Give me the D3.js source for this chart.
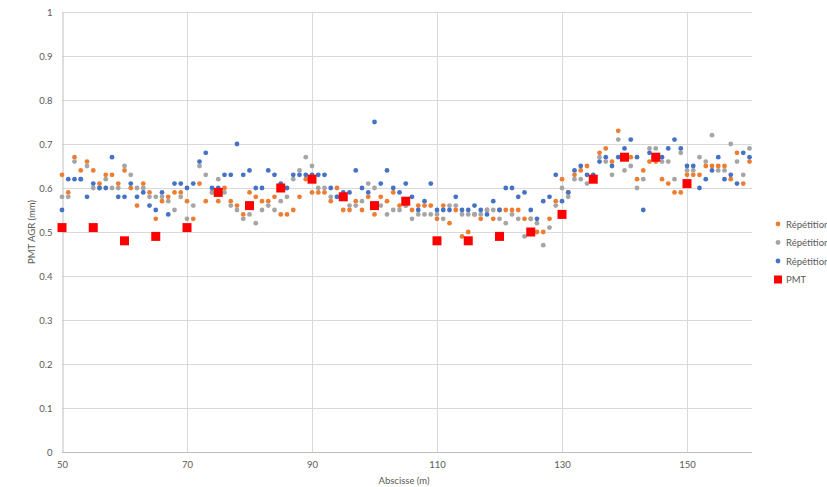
<!DOCTYPE html>
<html>
<head>
<meta charset="utf-8">
<script src="https://cdn.jsdelivr.net/npm/d3@7"></script>
<style>
  body { margin: 0; background: #fff; }
  text { font-family: Lato, "Open Sans", sans-serif; fill: #595959; }
</style>
</head>
<body>
<div id="chart"></div>
<script>
'use strict';

// abscissae (m) of the repetitions, one per metre
const abscissae = d3.range(50, 161);

const rep1 = [
  .63, .59, .67, .64, .66, .64, .61, .63, .63, .61,
  .64, .60, .56, .61, .59, .53, .57, .58, .59, .59,
  .57, .53, .61, .57, .59, .57, .60, .57, .56, .54,
  .59, .58, .57, .57, .58, .54, .54, .55, .58, .62,
  .59, .59, .59, .57, .60, .55, .55, .57, .55, .58,
  .54, .58, .57, .59, .56, .56, .55, .56, .56, .56,
  .53, .56, .52, .55, .49, .50, .54, .53, .55, .53,
  .55, .55, .55, .55, .53, .53, .50, .50, .53, .57,
  .62, .59, .63, .64, .65, .62, .68, .69, .66, .73,
  .67, .67, .62, .64, .66, .66, .62, .61, .59, .59,
  .63, .63, .63, .65, .65, .65, .65, .62, .68, .61, .66
];

const rep2 = [
  .58, .58, .66, .62, .65, .60, .60, .62, .60, .60,
  .65, .63, .60, .60, .58, .58, .58, .57, .55, .58,
  .53, .56, .65, .63, .59, .62, .59, .56, .55, .53,
  .54, .52, .55, .56, .55, .57, .58, .62, .64, .67,
  .65, .60, .60, .58, .58, .58, .56, .56, .57, .61,
  .60, .56, .54, .55, .55, .56, .53, .54, .54, .54,
  .54, .53, .56, .56, .54, .54, .54, .54, .55, .55,
  .53, .52, .54, .53, .49, .53, .52, .47, .51, .56,
  .60, .58, .62, .62, .61, .62, .67, .66, .63, .71,
  .64, .65, .60, .62, .69, .69, .66, .66, .62, .68,
  .64, .64, .67, .66, .72, .64, .64, .70, .66, .63, .69
];

const rep3 = [
  .55, .62, .62, .62, .58, .61, .60, .60, .67, .58,
  .58, .61, .58, .59, .56, .55, .59, .54, .61, .61,
  .60, .61, .66, .68, .60, .60, .63, .63, .70, .63,
  .64, .60, .60, .64, .63, .61, .60, .63, .63, .63,
  .63, .63, .63, .60, .58, .59, .59, .64, .60, .59,
  .75, .61, .64, .60, .59, .61, .58, .55, .57, .61,
  .55, .55, .55, .58, .55, .55, .56, .55, .54, .57,
  .55, .60, .60, .58, .59, .55, .53, .57, .58, .63,
  .57, .59, .64, .65, .63, .63, .66, .67, .65, .67,
  .69, .71, .67, .55, .68, .67, .67, .69, .71, .69,
  .65, .65, .60, .62, .64, .67, .62, .63, .61, .68, .67
];

const pmtAbscissae = [50, 55, 60, 65, 70, 75, 80, 85, 90, 95, 100,
  105, 110, 115, 120, 125, 130, 135, 140, 145, 150];
const pmtValues = [.51, .51, .48, .49, .51, .59, .56, .60, .62, .58, .56,
  .57, .48, .48, .49, .50, .54, .62, .67, .67, .61];

const xTicks = [50, 70, 90, 110, 130, 150];
const yTicks = [0, 0.1, 0.2, 0.3, 0.4, 0.5, 0.6, 0.7, 0.8, 0.9, 1];

const seriesNames = ['Répétition 1', 'Répétition 2', 'Répétition 3', 'PMT'];
const seriesColors = ['#ED7D31', '#A5A5A5', '#4472C4', '#FF0000'];

const width = 827, height = 487;
const plot = {left: 62, right: 752, top: 12, bottom: 452};

const svg = d3.select('#chart').append('svg')
    .attr('width', width)
    .attr('height', height);

const x = d3.scaleLinear().domain([50, 160]).range([plot.left, plot.left + 110 * 6.25]);
const y = d3.scaleLinear().domain([0, 1]).range([plot.bottom, plot.top]);

// gridlines
svg.append('g')
  .selectAll('line')
  .data(yTicks.slice(1))
  .join('line')
    .attr('x1', plot.left).attr('x2', plot.right)
    .attr('y1', d => Math.round(y(d)) + 0.5).attr('y2', d => Math.round(y(d)) + 0.5)
    .attr('stroke', '#d9d9d9');

svg.append('g')
  .selectAll('line')
  .data(xTicks.slice(1))
  .join('line')
    .attr('x1', d => Math.round(x(d)) + 0.5).attr('x2', d => Math.round(x(d)) + 0.5)
    .attr('y1', plot.top).attr('y2', plot.bottom)
    .attr('stroke', '#d9d9d9');

// axes
const xAxis = svg.append('g')
    .attr('transform', `translate(0,${Math.round(y(0)) + 0.5})`)
    .call(d3.axisBottom(x).tickValues(xTicks).tickFormat(d3.format('d')).tickSize(0).tickPadding(9));
xAxis.select('.domain').attr('d', `M${plot.left},0H${plot.right}`).attr('stroke', '#bfbfbf');
xAxis.selectAll('text').attr('font-size', 9.5);

const yAxis = svg.append('g')
    .attr('transform', `translate(${Math.round(x(50)) + 0.5},0)`)
    .call(d3.axisLeft(y).tickValues(yTicks).tickFormat(d => d).tickSize(0).tickPadding(10));
yAxis.select('.domain').attr('stroke', '#bfbfbf');
yAxis.selectAll('text').attr('font-size', 9.5);

// axis titles
svg.append('text')
    .attr('x', 404).attr('y', 484)
    .attr('text-anchor', 'middle')
    .attr('font-size', 9.5)
    .text('Abscisse (m)');

svg.append('text')
    .attr('transform', 'translate(35,232) rotate(-90)')
    .attr('text-anchor', 'middle')
    .attr('font-size', 9.5)
    .text('PMT AGR (mm)');

// repetitions
const reps = [rep1, rep2, rep3];
reps.forEach((values, i) => {
  svg.append('g')
    .selectAll('circle')
    .data(values)
    .join('circle')
      .attr('cx', (d, j) => x(abscissae[j]))
      .attr('cy', d => y(d))
      .attr('r', 2.4)
      .attr('fill', seriesColors[i]);
});

// PMT squares
const sq = 9;
svg.append('g')
  .selectAll('rect')
  .data(pmtValues)
  .join('rect')
    .attr('x', (d, j) => x(pmtAbscissae[j]) - sq / 2)
    .attr('y', d => y(d) - sq / 2)
    .attr('width', sq)
    .attr('height', sq)
    .attr('fill', seriesColors[3]);

// legend
const legend = svg.append('g').attr('transform', 'translate(778,224)');
seriesNames.forEach((name, i) => {
  const g = legend.append('g').attr('transform', `translate(0,${i * 18.5})`);
  if (i < 3) {
    g.append('circle').attr('r', 2.4).attr('fill', seriesColors[i]);
  } else {
    g.append('rect').attr('x', -4).attr('y', -4).attr('width', 8).attr('height', 8)
      .attr('fill', seriesColors[i]);
  }
  g.append('text')
    .attr('x', 8).attr('y', 3.5)
    .attr('font-size', 9.5)
    .text(name);
});
</script>
</body>
</html>
